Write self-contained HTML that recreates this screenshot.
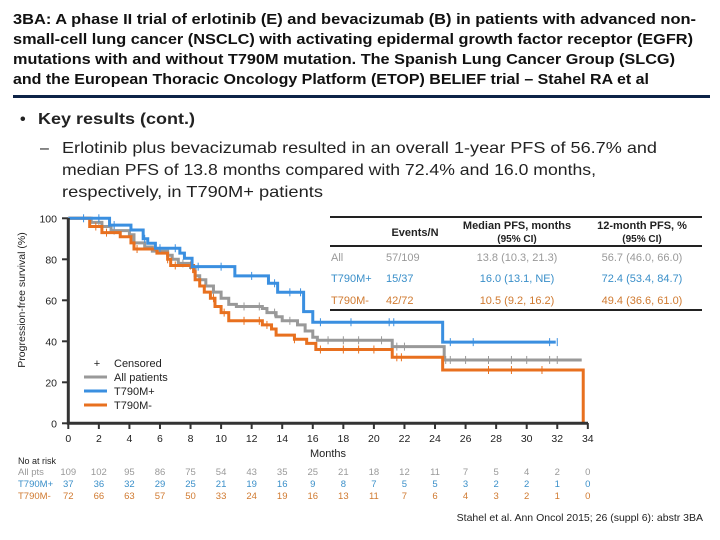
<!DOCTYPE html>
<html><head><meta charset="utf-8"><style>
html,body{margin:0;padding:0;background:#fff}
svg{display:block;font-family:"Liberation Sans",Arial,sans-serif}
</style></head><body>
<svg id="s" width="720" height="540" viewBox="0 0 720 540">
<g font-size="14.5" font-weight="bold" fill="#111">
<text x="13" y="24" textLength="683" lengthAdjust="spacingAndGlyphs">3BA: A phase II trial of erlotinib (E) and bevacizumab (B) in patients with advanced non-</text>
<text x="13" y="44" textLength="680" lengthAdjust="spacingAndGlyphs">small-cell lung cancer (NSCLC) with activating epidermal growth factor receptor (EGFR)</text>
<text x="13" y="64" textLength="662" lengthAdjust="spacingAndGlyphs">mutations with and without T790M mutation. The Spanish Lung Cancer Group (SLCG)</text>
<text x="13" y="84" textLength="636" lengthAdjust="spacingAndGlyphs">and the European Thoracic Oncology Platform (ETOP) BELIEF trial – Stahel RA et al</text>
</g>
<rect x="13" y="95" width="697" height="3" fill="#0d2347"/>
<g font-size="16" fill="#222">
<text x="20" y="124" font-weight="bold">•</text>
<text x="38" y="124" font-weight="bold" textLength="157" lengthAdjust="spacingAndGlyphs">Key results (cont.)</text>
<text x="40" y="153">–</text>
<text x="62" y="153" textLength="595" lengthAdjust="spacingAndGlyphs">Erlotinib plus bevacizumab resulted in an overall 1-year PFS of 56.7% and</text>
<text x="62" y="175" textLength="534" lengthAdjust="spacingAndGlyphs">median PFS of 13.8 months compared with 72.4% and 16.0 months,</text>
<text x="62" y="197" textLength="261" lengthAdjust="spacingAndGlyphs">respectively, in T790M+ patients</text>
</g>
<g id="chart"></g>
<g font-size="11">
<line x1="330" y1="217" x2="702" y2="217" stroke="#222" stroke-width="2"/>
<line x1="330" y1="246" x2="702" y2="246" stroke="#222" stroke-width="2"/>
<line x1="330" y1="310" x2="702" y2="310" stroke="#222" stroke-width="2"/>
<text x="415" y="236" text-anchor="middle" font-weight="bold" fill="#222">Events/N</text>
<text x="517" y="229" text-anchor="middle" font-weight="bold" fill="#222">Median PFS, months</text>
<text x="517" y="242" text-anchor="middle" font-weight="bold" fill="#222" font-size="10">(95% CI)</text>
<text x="642" y="229" text-anchor="middle" font-weight="bold" fill="#222">12-month PFS, %</text>
<text x="642" y="242" text-anchor="middle" font-weight="bold" fill="#222" font-size="10">(95% CI)</text>
<g fill="#999"><text x="331" y="261">All</text><text x="386" y="261">57/109</text><text x="517" y="261" text-anchor="middle">13.8 (10.3, 21.3)</text><text x="642" y="261" text-anchor="middle">56.7 (46.0, 66.0)</text></g>
<g fill="#3a8fc9"><text x="331" y="282">T790M+</text><text x="386" y="282">15/37</text><text x="517" y="282" text-anchor="middle">16.0 (13.1, NE)</text><text x="642" y="282" text-anchor="middle">72.4 (53.4, 84.7)</text></g>
<g fill="#d07a30"><text x="331" y="304">T790M-</text><text x="386" y="304">42/72</text><text x="517" y="304" text-anchor="middle">10.5 (9.2, 16.2)</text><text x="642" y="304" text-anchor="middle">49.4 (36.6, 61.0)</text></g>
</g>
<g font-size="11" fill="#222">
<text x="97" y="367" text-anchor="middle">+</text><text x="114" y="367">Censored</text>
<line x1="84" y1="377" x2="107" y2="377" stroke="#999" stroke-width="3"/><text x="114" y="381">All patients</text>
<line x1="84" y1="391" x2="107" y2="391" stroke="#3a8fe0" stroke-width="3"/><text x="114" y="395">T790M+</text>
<line x1="84" y1="405" x2="107" y2="405" stroke="#e8701f" stroke-width="3"/><text x="114" y="409">T790M-</text>
</g>
<text x="25" y="300" font-size="10.5" fill="#222" text-anchor="middle" transform="rotate(-90 25 300)">Progression-free survival (%)</text>
<text x="328" y="457" font-size="11" fill="#222" text-anchor="middle">Months</text>
<text x="18" y="464" font-size="9" fill="#222">No at risk</text>
<g id="risk" font-size="9.5"></g>
<text x="703" y="521" font-size="10.5" fill="#222" text-anchor="end">Stahel et al. Ann Oncol 2015; 26 (suppl 6): abstr 3BA</text>
</svg>
<script>
const xTicks=[0,2,4,6,8,10,12,14,16,18,20,22,24,26,28,30,32,34];
const yTicks=[0,20,40,60,80,100];
const allT=[0,1.5,2.2,2.8,4,4.3,5,5.5,6.5,6.8,7.2,8,8.3,8.6,9,9.5,10,10.5,11,12.7,13,13.6,14,15,15.5,16,16.3,21.2,24.6,33.6];
const allS=[100,98,96,94,92,88,86,84,82,80,78,76,72,70,67,64,61,58,57,56,54,52,50,48,45,42,40.5,37.4,30.9,30.9];
const posT=[0,2.7,4.1,4.9,5.2,5.7,7.3,7.6,8.1,10.9,13.1,13.7,15.4,16,24.5,31.9];
const posS=[100,96.7,94.3,90,87.8,85.4,83,80.5,76.4,71.9,68.3,63.9,54.5,49.3,39.6,39.6];
const negT=[0,1.4,2.2,3.4,4.1,4.3,5.8,6.5,6.7,8.2,8.3,8.6,8.9,9.3,9.6,10,10.5,12.7,13.3,13.6,14.8,15.6,16.2,21.2,24.5,33.7];
const negS=[100,96,93,91,88,85,83,80,77,74,70,67,64,61,57,54,50,48,46,43,41,39,36,32.2,26,0];
const allCens=[2,3,6.5,7.5,9.5,11.5,12.5,13.5,14.5,17,18,19,20.5,21.5,22,24.7,25,26,27.5,29,30,31.5,32];
const posCens=[1,2,3,5,6,7,8.5,10,12,13.5,14.5,15.2,16.5,18.5,21,21.3,25,26.5,31.5,32];
const negCens=[1.8,2.5,4.5,6.5,7,8,9.5,10.2,11.5,12.5,13,14.8,16.5,18,19,20,21.5,21.8,27.5,29,31];
const riskLabels=["All pts","T790M+","T790M-"];
const riskAll=[109,102,95,86,75,54,43,35,25,21,18,12,11,7,5,4,2,0];
const riskPos=[37,36,32,29,25,21,19,16,9,8,7,5,5,3,2,2,1,0];
const riskNeg=[72,66,63,57,50,33,24,19,16,13,11,7,6,4,3,2,1,0];
const NS="http://www.w3.org/2000/svg";
const X=t=>68.3+t*15.28, Y=v=>423.3-v*2.05;
const g=document.getElementById('chart');
function mk(tag,at,par){const e=document.createElementNS(NS,tag);for(const k in at)e.setAttribute(k,at[k]);(par||g).appendChild(e);return e;}
function surv(T,S,t){let v=S[0];for(let i=0;i<T.length;i++)if(T[i]<=t)v=S[i];return v;}
const series=[[allT,allS,allCens,'#999','curve-all'],[negT,negS,negCens,'#e8701f','curve-t790m-neg'],[posT,posS,posCens,'#3a8fe0','curve-t790m-pos']];
series.forEach(([T,S,C,col,name])=>{
 let d='M'+X(T[0])+' '+Y(S[0]);
 for(let i=1;i<T.length;i++){d+=' H'+X(T[i])+' V'+Y(S[i]);}
 const p=mk('path',{d:d,fill:'none',stroke:col,'stroke-width':3});
 
 
 C.forEach(t=>{const y=Y(surv(T,S,t));const l=mk('line',{x1:X(t),x2:X(t),y1:y-4,y2:y+4,stroke:col,'stroke-width':1});
  
  });
});
const ax=mk('path',{d:'M68.3 218 V423.3 H588',fill:'none',stroke:'#333','stroke-width':3});


yTicks.forEach(v=>{mk('line',{x1:62,x2:68,y1:Y(v),y2:Y(v),stroke:'#333','stroke-width':2});
 const t=mk('text',{x:57,y:Y(v)+4,'font-size':10.5,'text-anchor':'end',fill:'#222'});t.textContent=v;
 
 });
xTicks.forEach(v=>{mk('line',{x1:X(v),x2:X(v),y1:423,y2:429,stroke:'#333','stroke-width':2});
 const t=mk('text',{x:X(v),y:442,'font-size':10.5,'text-anchor':'middle',fill:'#222'});t.textContent=v;
 
 });
const r=document.getElementById('risk');
[[riskAll,'#999',475],[riskPos,'#3a8fc9',487],[riskNeg,'#d07a30',499]].forEach(([arr,col,y],i)=>{
 const l=mk('text',{x:18,y:y,fill:col},r);l.textContent=riskLabels[i];
 
 
 arr.forEach((v,j)=>{const t=mk('text',{x:X(xTicks[j]),y:y,fill:col,'text-anchor':'middle'},r);t.textContent=v;
  
  });
});
</script>
</body></html>
